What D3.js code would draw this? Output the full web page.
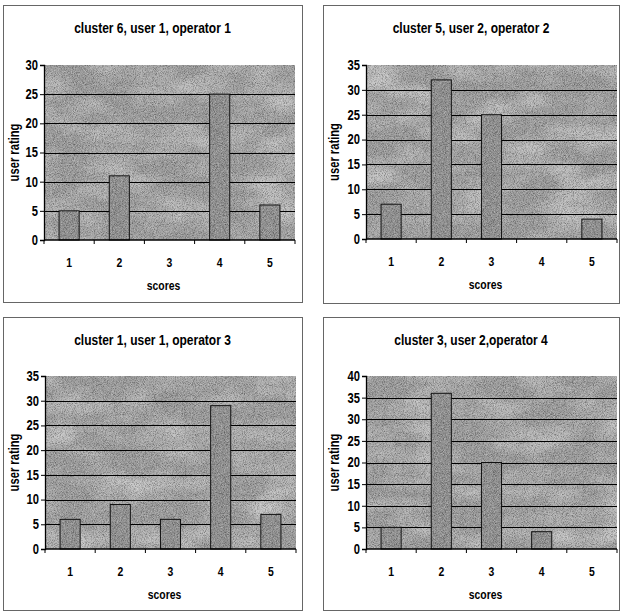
<!DOCTYPE html>
<html>
<head>
<meta charset="utf-8">
<script src="https://cdn.jsdelivr.net/npm/d3@7"></script>
<style>
  body { margin: 0; background: #fff; }
  text { font-family: "Liberation Sans", Arial, sans-serif; font-weight: bold; fill: #000; }
</style>
</head>
<body>
<svg id="chart"></svg>
<script>
const WIDTH = 624
const HEIGHT = 614
const NARROW = 0.8 // squeeze text horizontally, the scan uses Arial Narrow

const scores = [1, 2, 3, 4, 5]
const titles = [
  'cluster 6, user 1, operator 1',
  'cluster 5, user 2, operator 2',
  'cluster 1, user 1, operator 3',
  'cluster 3, user 2,operator 4'
]
const ratings1 = [5, 11, 0, 25, 6]
const ratings2 = [7, 32, 25, 0, 4]
const ratings3 = [6, 9, 6, 29, 7]
const ratings4 = [5, 36, 20, 4, 0]
const yMaxes = [30, 35, 35, 40]

// panel boxes and plot areas, in page pixels
const panels = [
  { box: [3, 5, 299, 297], plot: [44, 65, 295, 240], values: ratings1 },
  { box: [323, 5, 296, 298], plot: [366, 65, 617, 239], values: ratings2 },
  { box: [3, 317, 299, 293], plot: [45, 376, 296, 549], values: ratings3 },
  { box: [323, 317, 296, 293], plot: [366, 376, 617, 549], values: ratings4 }
]

const svg = d3.select('#chart')
  .attr('width', WIDTH)
  .attr('height', HEIGHT)

// grainy scan texture
const defs = svg.append('defs')
const grain = defs.append('filter').attr('id', 'grain')
  .attr('x', 0).attr('y', 0).attr('width', 1).attr('height', 1)
grain.append('feTurbulence')
  .attr('type', 'fractalNoise').attr('baseFrequency', 1.1).attr('numOctaves', 1).attr('seed', 3)
grain.append('feColorMatrix').attr('type', 'matrix')
  .attr('values', '0 0 0 0 0  0 0 0 0 0  0 0 0 0 0  1.0 0 0 0 -0.45')

const speck = defs.append('filter').attr('id', 'speck')
  .attr('x', 0).attr('y', 0).attr('width', 1).attr('height', 1)
speck.append('feTurbulence')
  .attr('type', 'fractalNoise').attr('baseFrequency', 1.3).attr('numOctaves', 1).attr('seed', 11)
speck.append('feColorMatrix').attr('type', 'matrix')
  .attr('values', '0 0 0 0 1  0 0 0 0 1  0 0 0 0 1  1.0 0 0 0 -0.48')

const blot = defs.append('filter').attr('id', 'blot')
  .attr('x', 0).attr('y', 0).attr('width', 1).attr('height', 1)
blot.append('feTurbulence')
  .attr('type', 'fractalNoise').attr('baseFrequency', '0.02 0.04').attr('numOctaves', 2).attr('seed', 7)
blot.append('feColorMatrix').attr('type', 'matrix')
  .attr('values', '0 0 0 0 1  0 0 0 0 1  0 0 0 0 1  0.9 0 0 0 -0.35')

panels.forEach((p, i) => drawPanel(p, titles[i], yMaxes[i]))

function label(g, x, y, str, size, anchor = 'middle', rotate = 0) {
  return g.append('text')
    .attr('transform', `translate(${x},${y}) rotate(${rotate}) scale(${NARROW},1)`)
    .attr('dy', '0.35em')
    .attr('text-anchor', anchor)
    .attr('font-size', size)
    .text(str)
}

function drawPanel({ box, plot, values }, title, yMax) {
  const [bx, by, bw, bh] = box
  const [x0, y0, x1, y1] = plot
  const g = svg.append('g')

  g.append('rect')
    .attr('x', bx + 0.5).attr('y', by + 0.5)
    .attr('width', bw).attr('height', bh)
    .attr('fill', '#fff').attr('stroke', '#666').attr('stroke-width', 1)

  const x = d3.scaleBand().domain(scores).range([x0, x1]).paddingInner(0.6).paddingOuter(0.3)
  const xTicks = d3.scaleLinear().domain([0, scores.length]).range([x0, x1])
  const y = d3.scaleLinear().domain([0, yMax]).range([y1, y0])

  // plot background
  const bg = [x0, y0, x1 - x0, y1 - y0]
  ;['none', 'url(#blot)', 'url(#grain)', 'url(#speck)'].forEach((f, k) => {
    g.append('rect')
      .attr('x', bg[0]).attr('y', bg[1]).attr('width', bg[2]).attr('height', bg[3])
      .attr('fill', k === 0 ? '#9d9d9d' : '#000')
      .attr('filter', f === 'none' ? null : f)
  })

  // gridlines
  const gridVals = d3.range(5, yMax, 5)
  g.selectAll('.grid')
    .data(gridVals)
    .enter().append('line')
    .attr('x1', x0).attr('x2', x1)
    .attr('y1', d => Math.round(y(d)) + 0.5).attr('y2', d => Math.round(y(d)) + 0.5)
    .attr('stroke', '#000').attr('stroke-width', 1.2)

  // bars
  const bars = g.selectAll('.bar')
    .data(scores.map((s, k) => ({ s, v: values[k] })).filter(d => d.v > 0))
    .enter().append('g')
  bars.append('rect')
    .attr('x', d => x(d.s)).attr('y', d => y(d.v))
    .attr('width', x.bandwidth()).attr('height', d => y1 - y(d.v))
    .attr('fill', '#929292').attr('stroke', '#111').attr('stroke-width', 1)
  ;['url(#grain)', 'url(#speck)'].forEach(f => {
    bars.append('rect')
      .attr('x', d => x(d.s) + 1).attr('y', d => y(d.v) + 1)
      .attr('width', x.bandwidth() - 2).attr('height', d => y1 - y(d.v) - 2)
      .attr('filter', f)
  })

  // y axis
  const yAxis = d3.axisLeft(y).tickValues(d3.range(0, yMax + 1, 5)).tickSize(4).tickFormat(() => '')
  const ya = g.append('g').attr('transform', `translate(${x0},0)`).call(yAxis)
  ya.select('.domain').attr('stroke', '#000').attr('stroke-width', 1.3)
  d3.range(0, yMax + 1, 5).forEach(v => label(g, x0 - 6, y(v), v, 14, 'end'))

  // x axis
  const xa = g.append('g').attr('transform', `translate(0,${y1})`)
  xa.append('line').attr('x1', x0).attr('x2', x1).attr('y1', 0).attr('y2', 0)
    .attr('stroke', '#000').attr('stroke-width', 1.3)
  xa.selectAll('.tick')
    .data(d3.range(0, scores.length + 1))
    .enter().append('line')
    .attr('x1', d => xTicks(d)).attr('x2', d => xTicks(d))
    .attr('y1', 0).attr('y2', 4)
    .attr('stroke', '#000')
  scores.forEach(s => label(g, x(s) + x.bandwidth() / 2, y1 + 22, s, 13))

  label(g, (x0 + x1) / 2 - 6, y1 + 45, 'scores', 13)
  label(g, bx + 11, (y0 + y1) / 2, 'user rating', 14, 'middle', -90)
  label(g, bx + bw / 2, by + 23, title, 15)
}
</script>
</body>
</html>
